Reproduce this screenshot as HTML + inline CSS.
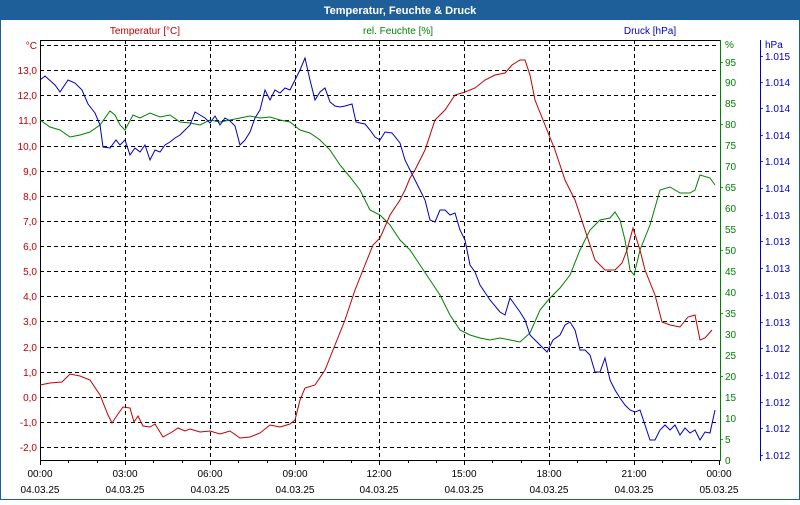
<!DOCTYPE html>
<html><head><meta charset="utf-8"><style>
body{margin:0;width:800px;height:500px;overflow:hidden;background:#fff;font-family:"Liberation Sans",Tahoma,sans-serif}
</style></head><body>
<svg width="800" height="500" xmlns="http://www.w3.org/2000/svg" font-family="Liberation Sans, sans-serif" font-size="10">
<rect x="0" y="0" width="800" height="500" fill="#fff"/>
<rect x="0.5" y="0.5" width="799" height="499" fill="none" stroke="#1f5f99" stroke-width="1"/>
<rect x="0" y="0" width="800" height="20" fill="#1f5f99"/>
<text x="400" y="14" text-anchor="middle" fill="#fff" font-weight="bold" font-size="11">Temperatur, Feuchte &amp; Druck</text>
<text x="145" y="34" text-anchor="middle" fill="#c00000">Temperatur [°C]</text>
<text x="398" y="34" text-anchor="middle" fill="#008000">rel. Feuchte [%]</text>
<text x="650" y="34" text-anchor="middle" fill="#0000c0">Druck [hPa]</text>
<g stroke="#000" stroke-dasharray="4,3" stroke-width="1">
<line x1="40" y1="45.5" x2="719" y2="45.5"/><line x1="40" y1="70.5" x2="719" y2="70.5"/><line x1="40" y1="95.5" x2="719" y2="95.5"/><line x1="40" y1="120.5" x2="719" y2="120.5"/><line x1="40" y1="146.5" x2="719" y2="146.5"/><line x1="40" y1="171.5" x2="719" y2="171.5"/><line x1="40" y1="196.5" x2="719" y2="196.5"/><line x1="40" y1="221.5" x2="719" y2="221.5"/><line x1="40" y1="246.5" x2="719" y2="246.5"/><line x1="40" y1="271.5" x2="719" y2="271.5"/><line x1="40" y1="296.5" x2="719" y2="296.5"/><line x1="40" y1="321.5" x2="719" y2="321.5"/><line x1="40" y1="347.5" x2="719" y2="347.5"/><line x1="40" y1="372.5" x2="719" y2="372.5"/><line x1="40" y1="397.5" x2="719" y2="397.5"/><line x1="40" y1="422.5" x2="719" y2="422.5"/><line x1="40" y1="447.5" x2="719" y2="447.5"/>
<line x1="125.5" y1="40" x2="125.5" y2="460"/><line x1="210.5" y1="40" x2="210.5" y2="460"/><line x1="295.5" y1="40" x2="295.5" y2="460"/><line x1="379.5" y1="40" x2="379.5" y2="460"/><line x1="464.5" y1="40" x2="464.5" y2="460"/><line x1="549.5" y1="40" x2="549.5" y2="460"/><line x1="634.5" y1="40" x2="634.5" y2="460"/>
</g>
<line x1="40" y1="40.5" x2="720" y2="40.5" stroke="#000"/>
<line x1="40.5" y1="40" x2="40.5" y2="461" stroke="#000"/>
<line x1="40" y1="460.5" x2="720" y2="460.5" stroke="#000"/>
<line x1="720.5" y1="40" x2="720.5" y2="461" stroke="#008000"/>
<line x1="760.5" y1="40" x2="760.5" y2="461" stroke="#0000c0"/>
<g stroke="#000">
<line x1="40.5" y1="460" x2="40.5" y2="465"/><line x1="68.5" y1="460" x2="68.5" y2="463"/><line x1="97.5" y1="460" x2="97.5" y2="463"/><line x1="125.5" y1="460" x2="125.5" y2="465"/><line x1="153.5" y1="460" x2="153.5" y2="463"/><line x1="182.5" y1="460" x2="182.5" y2="463"/><line x1="210.5" y1="460" x2="210.5" y2="465"/><line x1="238.5" y1="460" x2="238.5" y2="463"/><line x1="267.5" y1="460" x2="267.5" y2="463"/><line x1="295.5" y1="460" x2="295.5" y2="465"/><line x1="323.5" y1="460" x2="323.5" y2="463"/><line x1="351.5" y1="460" x2="351.5" y2="463"/><line x1="379.5" y1="460" x2="379.5" y2="465"/><line x1="408.5" y1="460" x2="408.5" y2="463"/><line x1="436.5" y1="460" x2="436.5" y2="463"/><line x1="464.5" y1="460" x2="464.5" y2="465"/><line x1="492.5" y1="460" x2="492.5" y2="463"/><line x1="521.5" y1="460" x2="521.5" y2="463"/><line x1="549.5" y1="460" x2="549.5" y2="465"/><line x1="577.5" y1="460" x2="577.5" y2="463"/><line x1="606.5" y1="460" x2="606.5" y2="463"/><line x1="634.5" y1="460" x2="634.5" y2="465"/><line x1="662.5" y1="460" x2="662.5" y2="463"/><line x1="691.5" y1="460" x2="691.5" y2="463"/><line x1="719.5" y1="460" x2="719.5" y2="465"/>
</g>
<g fill="#c00000" text-anchor="end">
<text x="37" y="49">°C</text><text x="37" y="74">13,0</text><text x="37" y="99">12,0</text><text x="37" y="124">11,0</text><text x="37" y="150">10,0</text><text x="37" y="175">9,0</text><text x="37" y="200">8,0</text><text x="37" y="225">7,0</text><text x="37" y="250">6,0</text><text x="37" y="275">5,0</text><text x="37" y="300">4,0</text><text x="37" y="325">3,0</text><text x="37" y="351">2,0</text><text x="37" y="376">1,0</text><text x="37" y="401">0,0</text><text x="37" y="426">-1,0</text><text x="37" y="451">-2,0</text>
</g>
<g fill="#008000">
<text x="725" y="48">%</text><text x="725" y="66">95</text><text x="725" y="86">90</text><text x="725" y="107">85</text><text x="725" y="128">80</text><text x="725" y="149">75</text><text x="725" y="170">70</text><text x="725" y="191">65</text><text x="725" y="212">60</text><text x="725" y="233">55</text><text x="725" y="254">50</text><text x="725" y="275">45</text><text x="725" y="296">40</text><text x="725" y="317">35</text><text x="725" y="338">30</text><text x="725" y="359">25</text><text x="725" y="380">20</text><text x="725" y="401">15</text><text x="725" y="422">10</text><text x="725" y="443">5</text><text x="725" y="464">0</text>
</g>
<g fill="#0000c0">
<text x="765" y="48">hPa</text><text x="765" y="60">1.015</text><text x="765" y="86">1.014</text><text x="765" y="112">1.014</text><text x="765" y="139">1.014</text><text x="765" y="165">1.014</text><text x="765" y="192">1.014</text><text x="765" y="219">1.013</text><text x="765" y="245">1.013</text><text x="765" y="272">1.013</text><text x="765" y="299">1.013</text><text x="765" y="326">1.013</text><text x="765" y="352">1.012</text><text x="765" y="379">1.012</text><text x="765" y="406">1.012</text><text x="765" y="432">1.012</text><text x="765" y="459">1.012</text>
</g>
<g stroke="#0000c0" stroke-width="0.8"><line x1="760" y1="56.5" x2="763" y2="56.5"/><line x1="760" y1="82.5" x2="763" y2="82.5"/><line x1="760" y1="108.5" x2="763" y2="108.5"/><line x1="760" y1="135.5" x2="763" y2="135.5"/><line x1="760" y1="161.5" x2="763" y2="161.5"/><line x1="760" y1="188.5" x2="763" y2="188.5"/><line x1="760" y1="215.5" x2="763" y2="215.5"/><line x1="760" y1="241.5" x2="763" y2="241.5"/><line x1="760" y1="268.5" x2="763" y2="268.5"/><line x1="760" y1="295.5" x2="763" y2="295.5"/><line x1="760" y1="322.5" x2="763" y2="322.5"/><line x1="760" y1="348.5" x2="763" y2="348.5"/><line x1="760" y1="375.5" x2="763" y2="375.5"/><line x1="760" y1="402.5" x2="763" y2="402.5"/><line x1="760" y1="428.5" x2="763" y2="428.5"/><line x1="760" y1="455.5" x2="763" y2="455.5"/></g>
<g stroke="#008000" stroke-width="0.8"><line x1="720" y1="62.5" x2="723" y2="62.5"/><line x1="720" y1="124.5" x2="723" y2="124.5"/><line x1="720" y1="187.5" x2="723" y2="187.5"/><line x1="720" y1="250.5" x2="723" y2="250.5"/><line x1="720" y1="313.5" x2="723" y2="313.5"/><line x1="720" y1="376.5" x2="723" y2="376.5"/><line x1="720" y1="439.5" x2="723" y2="439.5"/></g>
<g fill="#000" text-anchor="middle">
<text x="40" y="477">00:00</text><text x="40" y="493">04.03.25</text>
<text x="125" y="477">03:00</text><text x="125" y="493">04.03.25</text>
<text x="210" y="477">06:00</text><text x="210" y="493">04.03.25</text>
<text x="295" y="477">09:00</text><text x="295" y="493">04.03.25</text>
<text x="379" y="477">12:00</text><text x="379" y="493">04.03.25</text>
<text x="464" y="477">15:00</text><text x="464" y="493">04.03.25</text>
<text x="549" y="477">18:00</text><text x="549" y="493">04.03.25</text>
<text x="634" y="477">21:00</text><text x="634" y="493">04.03.25</text>
<text x="719" y="477">00:00</text><text x="719" y="493">05.03.25</text>
</g>
<polyline fill="none" stroke="#008000" stroke-width="1" points="40,120 50,127 60,130 70,137 80,135 90,132 100,125 110,111 115,115 120,125 125,130 133,115 140,118 150,113 160,117 170,115 180,122 190,123 200,125 210,120 220,122 230,120 240,118 250,116 260,118 270,117 280,120 290,122 300,130 310,133 320,140 330,150 340,165 350,177 360,190 370,210 380,215 390,225 400,240 410,250 420,265 430,280 440,295 450,315 460,330 470,335 480,338 490,340 500,338 510,340 520,342 530,333 540,310 550,298 560,288 570,275 580,250 590,230 600,220 610,218 615,212 620,220 625,240 630,270 634,275 640,250 650,225 660,190 670,187 680,193 690,193 695,190 700,175 710,178 715,185"/>
<polyline fill="none" stroke="#0000c0" stroke-width="1" points="40,80 45,76 55,85 60,92 68,80 75,83 82,90 88,104 95,113 100,125 103,147 110,148 116,140 120,145 125,140 130,155 135,148 140,152 145,145 150,160 155,150 160,152 165,145 170,142 175,138 180,135 185,130 190,125 195,112 200,115 205,118 210,123 215,116 220,125 225,118 230,121 235,126 240,145 245,140 250,132 255,118 260,110 265,90 270,100 275,90 280,93 285,88 290,90 295,80 300,70 305,58 310,80 315,100 320,92 325,88 330,102 335,106 340,107 345,106 352,104 356,122 360,123 365,124 370,130 375,137 380,140 385,132 392,133 400,143 405,160 410,170 415,180 420,190 425,200 430,220 435,222 440,210 445,210 450,215 455,213 460,230 465,240 470,265 475,272 480,285 490,300 500,312 505,315 510,298 515,305 520,312 525,320 530,335 535,340 540,345 547,352 553,340 560,335 565,325 570,322 575,330 580,350 585,350 590,355 595,372 600,372 605,358 610,380 615,390 620,398 625,405 630,410 635,412 640,410 645,425 650,440 655,440 660,430 665,425 670,430 675,425 680,435 685,428 690,433 695,430 700,440 705,432 710,433 715,410"/>
<polyline fill="none" stroke="#c00000" stroke-width="1" points="40,385 50,383 62,382 70,374 80,376 90,380 100,395 108,415 112,423 118,414 123,407 130,408 134,422 138,416 143,426 150,427 155,424 163,437 172,432 178,428 185,431 190,429 200,432 210,431 220,434 230,431 240,438 250,437 260,433 270,425 280,427 290,424 295,420 300,400 305,388 315,385 325,370 335,345 345,320 355,290 365,265 373,245 380,238 390,215 400,200 405,190 410,178 415,170 425,150 435,120 445,110 455,95 465,92 475,88 485,80 495,75 505,73 512,65 520,60 525,60 530,75 535,100 545,125 555,150 565,180 575,200 585,230 595,260 605,270 615,270 622,263 627,250 633,228 640,250 645,270 655,295 662,322 670,325 680,327 688,317 695,315 700,340 705,338 712,330"/>
</svg>
</body></html>
